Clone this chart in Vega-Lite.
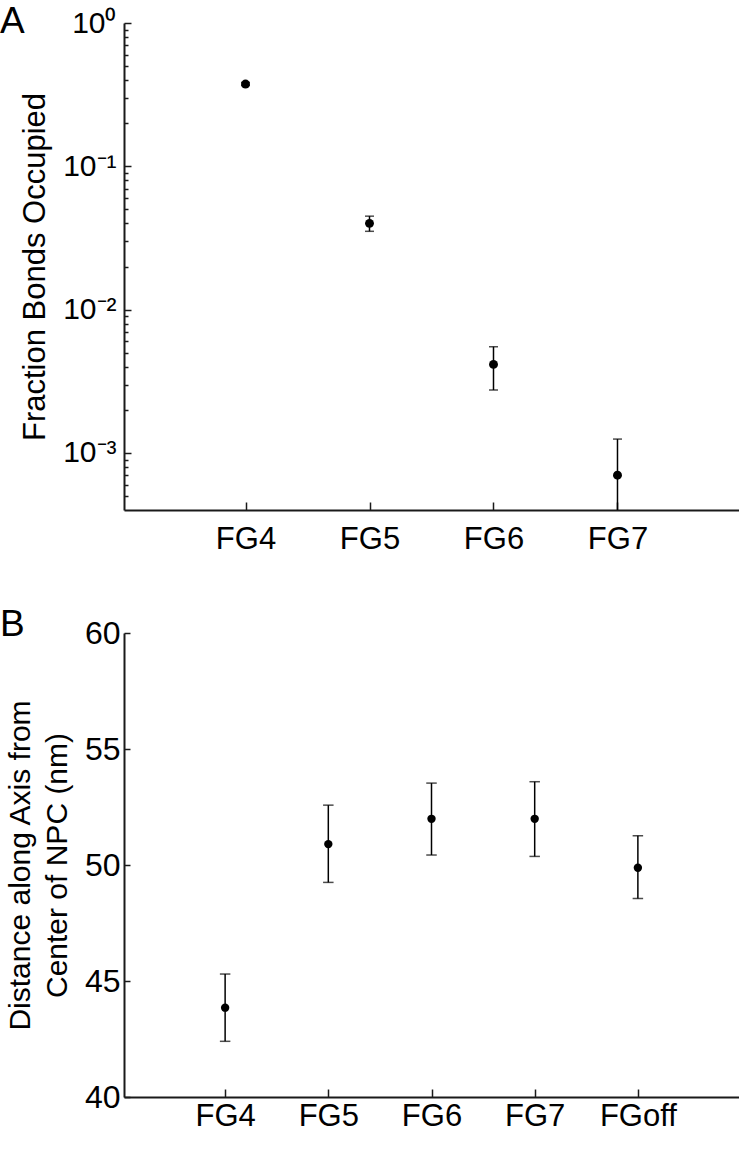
{
  "$schema": "https://vega.github.io/schema/vega-lite/v6.json",
  "background": "white",
  "padding": {"left": 0, "top": 3, "right": 0, "bottom": 0},
  "spacing": 123,
  "bounds": "flush",
  "config": {
    "font": "Liberation Sans",
    "view": {"stroke": null},
    "axis": {
      "grid": false,
      "domainColor": "#1a1a1a",
      "domainWidth": 2,
      "tickColor": "#1a1a1a",
      "tickWidth": 1.5,
      "labelFont": "Liberation Sans",
      "labelFontSize": 31,
      "labelColor": "black",
      "titleFont": "Liberation Sans",
      "titleFontSize": 30,
      "titleFontWeight": "normal",
      "titleColor": "black"
    },
    "axisX": {"tickSize": -8, "labelAngle": 0, "title": null},
    "title": {"font": "Liberation Sans", "fontSize": 37, "fontWeight": "normal", "color": "black", "anchor": "start", "frame": "group"}
  },
  "datasets": {
    "bonds": [
      {"construct": "FG4", "value": 0.375, "lower": 0.366, "upper": 0.385},
      {"construct": "FG5", "value": 0.040, "lower": 0.0352, "upper": 0.0449},
      {"construct": "FG6", "value": 0.00415, "lower": 0.00275, "upper": 0.00551},
      {"construct": "FG7", "value": 0.0007, "lower": 0.00015, "upper": 0.00125}
    ],
    "distance": [
      {"construct": "FG4", "value": 43.85, "lower": 42.4, "upper": 45.3},
      {"construct": "FG5", "value": 50.9, "lower": 49.25, "upper": 52.58},
      {"construct": "FG6", "value": 51.99, "lower": 50.43, "upper": 53.53},
      {"construct": "FG7", "value": 51.99, "lower": 50.37, "upper": 53.59},
      {"construct": "FGoff", "value": 49.88, "lower": 48.56, "upper": 51.26}
    ]
  },
  "vconcat": [
    {
      "width": 615,
      "height": 487,
      "title": {"text": "A", "dx": -124, "baseline": "alphabetic", "offset": -62},
      "data": {"name": "bonds"},
      "encoding": {
        "x": {"field": "construct", "type": "nominal", "sort": null, "scale": {"type": "point", "padding": 0.98}, "axis": {"labelPadding": 22}}
      },
      "layer": [
        {
          "mark": {"type": "rule", "color": "black", "strokeWidth": 1.5, "clip": true},
          "encoding": {
            "y": {
              "field": "lower", "type": "quantitative",
              "scale": {"type": "log", "domain": [0.0004, 1], "nice": false, "zero": false},
              "axis": {
                "title": "Fraction Bonds Occupied",
                "titleFontSize": 31,
                "titlePadding": 11,
                "labelFontSize": 30,
                "values": [0.0005, 0.0006, 0.0007, 0.0008, 0.0009, 0.001, 0.002, 0.003, 0.004, 0.005, 0.006, 0.007, 0.008, 0.009, 0.01, 0.02, 0.03, 0.04, 0.05, 0.06, 0.07, 0.08, 0.09, 0.1, 0.2, 0.3, 0.4, 0.5, 0.6, 0.7, 0.8, 0.9, 1],
                "labelExpr": "abs(datum.value - 1) < 1e-9 ? '10⁰' : abs(datum.value - 0.1) < 1e-9 ? '10⁻¹' : abs(datum.value - 0.01) < 1e-9 ? '10⁻²' : abs(datum.value - 0.001) < 1e-9 ? '10⁻³' : ''",
                "tickSize": {"condition": {"test": "abs(datum.value - 1) < 1e-9 || abs(datum.value - 0.1) < 1e-9 || abs(datum.value - 0.01) < 1e-9 || abs(datum.value - 0.001) < 1e-9", "value": -7}, "value": -4},
                "labelPadding": 15
              }
            },
            "y2": {"field": "upper"}
          }
        },
        {
          "mark": {"type": "tick", "color": "black", "thickness": 1.5, "size": 9, "clip": true},
          "encoding": {"y": {"field": "upper", "type": "quantitative"}}
        },
        {
          "mark": {"type": "tick", "color": "black", "thickness": 1.5, "size": 9, "clip": true},
          "encoding": {"y": {"field": "lower", "type": "quantitative"}}
        },
        {
          "mark": {"type": "point", "filled": true, "color": "black", "opacity": 1, "size": 80},
          "encoding": {"y": {"field": "value", "type": "quantitative"}}
        }
      ]
    },
    {
      "width": 615,
      "height": 464,
      "title": {"text": "B", "dx": -124, "baseline": "alphabetic", "offset": -56},
      "data": {"name": "distance"},
      "encoding": {
        "x": {"field": "construct", "type": "nominal", "sort": null, "scale": {"type": "point", "padding": 0.98}, "axis": {"labelPadding": 12}}
      },
      "layer": [
        {
          "mark": {"type": "rule", "color": "black", "strokeWidth": 1.5},
          "encoding": {
            "y": {
              "field": "lower", "type": "quantitative",
              "scale": {"domain": [40, 60], "nice": false, "zero": false},
              "axis": {
                "title": ["Distance along Axis from", "Center of NPC (nm)"],
                "titleLineHeight": 37,
                "titlePadding": 12,
                "labelFontSize": 32,
                "values": [40, 45, 50, 55, 60],
                "tickSize": -6,
                "labelPadding": 10
              }
            },
            "y2": {"field": "upper"}
          }
        },
        {
          "mark": {"type": "tick", "color": "black", "thickness": 1.5, "size": 10.5},
          "encoding": {"y": {"field": "upper", "type": "quantitative"}}
        },
        {
          "mark": {"type": "tick", "color": "black", "thickness": 1.5, "size": 10.5},
          "encoding": {"y": {"field": "lower", "type": "quantitative"}}
        },
        {
          "mark": {"type": "point", "filled": true, "color": "black", "opacity": 1, "size": 70},
          "encoding": {"y": {"field": "value", "type": "quantitative"}}
        }
      ]
    }
  ]
}
